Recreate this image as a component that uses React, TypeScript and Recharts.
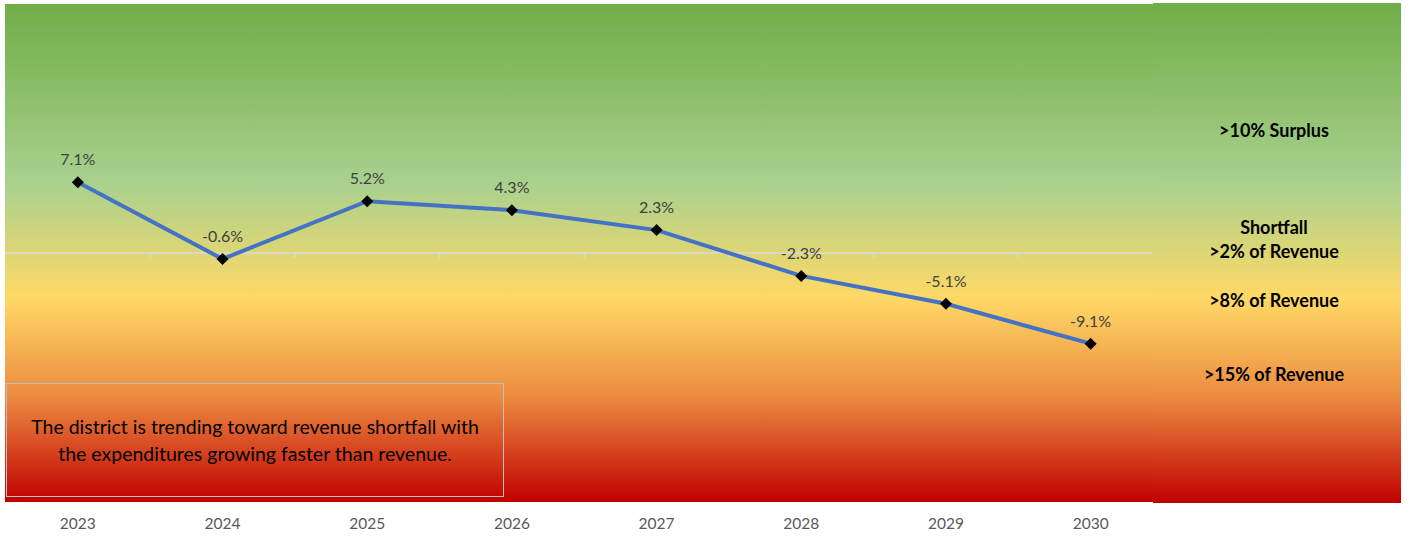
import React from 'react';
import { LineChart, Line, XAxis, YAxis, ReferenceLine, LabelList } from 'recharts';

const years = ['2023', '2024', '2025', '2026', '2027', '2028', '2029', '2030'];
const balance = [7.1, -0.6, 5.2, 4.3, 2.3, -2.3, -5.1, -9.1];
const boundaries = [0.5, 1.5, 2.5, 3.5, 4.5, 5.5, 6.5];

const zoneLabels = [
  { text: '>10% Surplus', top: 130 },
  { text: 'Shortfall', top: 227 },
  { text: '>2% of Revenue', top: 251 },
  { text: '>8% of Revenue', top: 300 },
  { text: '>15% of Revenue', top: 374 },
];

const noteLines = [
  'The district is trending toward revenue shortfall with',
  'the expenditures growing faster than revenue.',
];

const data = years.map((year, i) => ({ idx: i, year, value: balance[i] }));

const BG =
  'linear-gradient(to bottom, #70AD47 0%, #A9D18E 36%, #FFD966 59%, #EC8A40 79%, #C00000 100%)';

const FONT = 'Lato, "Open Sans", sans-serif';

const Diamond = (props: any) => {
  const { cx, cy } = props;
  if (cx == null || cy == null) return null;
  const r = 6;
  return (
    <polygon
      points={`${cx},${cy - r} ${cx + r},${cy} ${cx},${cy + r} ${cx - r},${cy}`}
      fill="#000000"
    />
  );
};

const YearTick = (props: any) => {
  const { x, y, payload } = props;
  return (
    <text x={x} y={y + 19} textAnchor="middle" fill="#595959" fontSize={15.5} fontFamily={FONT}>
      {years[payload.value]}
    </text>
  );
};

export default function App() {
  return (
    <div style={{ position: 'absolute', left: 0, top: 0, width: 1408, height: 538, background: '#fff' }}>
      <div style={{ position: 'absolute', left: 5, top: 4, width: 1148, height: 498, background: BG }} />
      <div style={{ position: 'absolute', left: 0, top: 0 }}>
        <LineChart
          width={1408}
          height={538}
          data={data}
          margin={{ top: 4, right: 245, bottom: 6, left: 5.5 }}
        >
          <XAxis
            dataKey="idx"
            type="number"
            domain={[-0.5, 7.5]}
            ticks={[0, 1, 2, 3, 4, 5, 6, 7]}
            height={30}
            axisLine={false}
            tickLine={false}
            tick={<YearTick />}
          />
          <YAxis hide domain={[-25, 25]} />
          <ReferenceLine y={0} stroke="#D9D9D9" strokeWidth={1.5} />
          {boundaries.map((b) => (
            <ReferenceLine
              key={b}
              segment={[{ x: b, y: 0 }, { x: b, y: -0.5 }]}
              stroke="#D9D9D9"
              strokeWidth={1.5}
            />
          ))}
          <Line
            dataKey="value"
            stroke="#4472C4"
            strokeWidth={4}
            dot={<Diamond />}
            activeDot={false}
            isAnimationActive={false}
          >
            <LabelList
              dataKey="value"
              position="top"
              offset={17}
              fill="#404040"
              fontSize={16}
              fontFamily={FONT}
              formatter={(v: any) => `${Number(v).toFixed(1)}%`}
            />
          </Line>
        </LineChart>
      </div>
      <div
        style={{
          position: 'absolute',
          left: 1153,
          top: 3,
          width: 248,
          height: 500,
          background: BG,
          fontFamily: FONT,
        }}
      >
        {zoneLabels.map((z) => (
          <div
            key={z.text}
            style={{
              position: 'absolute',
              left: 0,
              width: 242,
              top: z.top - 3 - 11,
              textAlign: 'center',
              fontWeight: 700,
              fontSize: 18,
              color: '#000',
              lineHeight: '22px',
            }}
          >
            {z.text}
          </div>
        ))}
      </div>
      <div
        style={{
          position: 'absolute',
          left: 6,
          top: 383,
          width: 498,
          height: 114,
          border: '1.5px solid #BFBFBF',
          display: 'flex',
          flexDirection: 'column',
          alignItems: 'center',
          justifyContent: 'center',
          textAlign: 'center',
          fontFamily: FONT,
          fontSize: 19.5,
          lineHeight: '27px',
          color: '#000',
          boxSizing: 'border-box',
          whiteSpace: 'nowrap',
        }}
      >
        {noteLines.map((l) => (
          <div key={l}>{l}</div>
        ))}
      </div>
    </div>
  );
}
